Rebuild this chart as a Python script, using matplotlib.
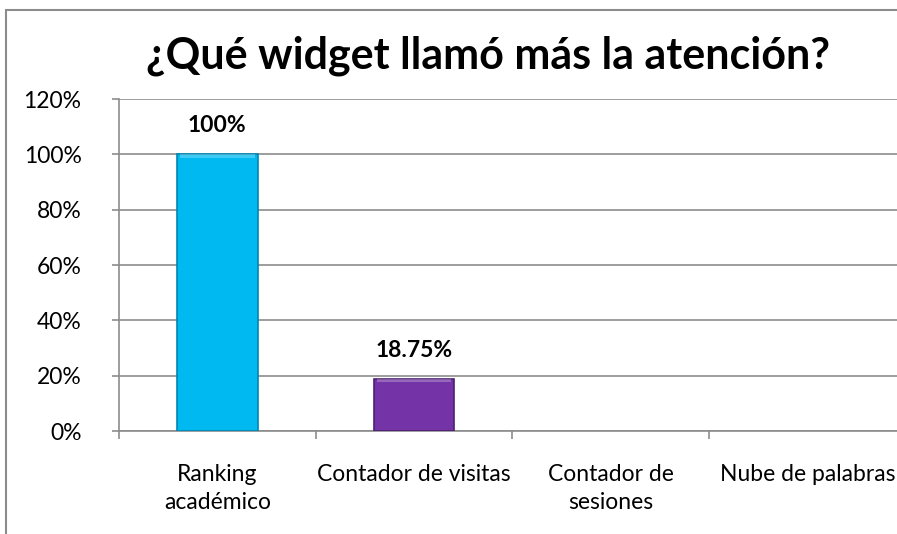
import matplotlib.pyplot as plt
from matplotlib.patches import Rectangle
from matplotlib.ticker import FixedLocator, PercentFormatter

categories = ["Ranking\nacadémico", "Contador de visitas", "Contador de\nsesiones", "Nube de palabras"]
values = [100, 18.75, 0, 0]
labels = ["100%", "18.75%", "", ""]
colors = ["#00B9F1", "#7533A8"]
edges = ["#0086B3", "#4E1F73"]


def main():
    plt.rcParams["font.family"] = ["Lato", "DejaVu Sans"]
    fig = plt.figure(figsize=(8.97, 5.34), dpi=100)
    W, H = 897, 534

    # outer chart frame
    fig.patches.append(Rectangle((6 / W, -0.1), 1.2, 1 - 10 / H + 0.1,
                                 transform=fig.transFigure, fill=False,
                                 edgecolor="#8c8c8c", lw=1.5))

    ax = fig.add_axes([119 / W, 1 - 431 / H, (W - 119) / W + 0.01, 332 / H])
    ax.set_xlim(-0.5, 3.5)
    ax.set_ylim(0, 120)

    x = list(range(len(values)))
    for i, v in enumerate(values):
        if v <= 0:
            continue
        ax.bar(i, v, width=0.41, color=colors[i], edgecolor=edges[i], lw=1.2, zorder=3)
        # light bevel on top
        ax.bar(i, 1.2, bottom=v - 1.2, width=0.38, color="white", alpha=0.25, lw=0, zorder=4)
        ax.text(i, v + 6.5, labels[i], ha="center", va="bottom", fontsize=16.5,
                fontweight="bold", color="black")

    ax.yaxis.set_major_locator(FixedLocator(range(0, 121, 20)))
    ax.yaxis.set_major_formatter(PercentFormatter(decimals=0))
    ax.grid(axis="y", color="#8c8c8c", lw=1.2, zorder=0)
    ax.set_axisbelow(True)

    ax.set_xticks([-0.5, 0.5, 1.5, 2.5, 3.5])
    ax.set_xticklabels([])
    ax.set_xticks(x, minor=True)
    ax.set_xticklabels(categories, minor=True, fontsize=16.5)
    ax.tick_params(axis="x", which="minor", length=0, pad=24)
    ax.tick_params(axis="x", which="major", length=6, color="#8c8c8c", width=1.2)
    ax.tick_params(axis="y", length=5, color="#8c8c8c", width=1.2, labelsize=16.5, pad=22)
    for lab in ax.get_xticklabels(minor=True):
        lab.set_linespacing(1.4)

    for s in ["top", "right"]:
        ax.spines[s].set_visible(False)
    for s in ["left", "bottom"]:
        ax.spines[s].set_color("#8c8c8c")
        ax.spines[s].set_linewidth(1.2)

    fig.text(488 / W, 1 - 56 / H, "¿Qué widget llamó más la atención?",
             ha="center", va="center", fontsize=31, fontweight="bold")

    fig.savefig("out.png", dpi=100)


if __name__ == "__main__":
    main()
